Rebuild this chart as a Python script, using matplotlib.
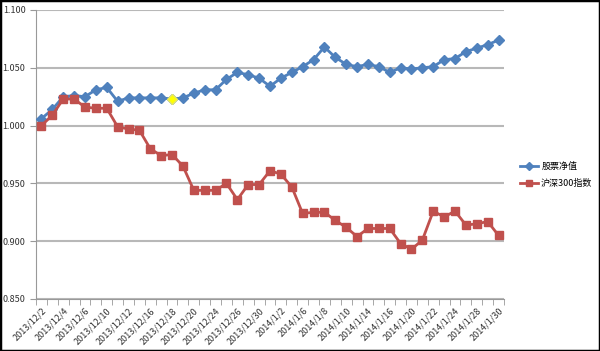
import numpy as np
import matplotlib
matplotlib.use('Agg')
import matplotlib.pyplot as plt
from matplotlib.patches import Rectangle

plt.rcParams['font.family'] = ['Noto Sans CJK SC', 'DejaVu Sans']

# 交易日
dates = ['2013/12/2', '2013/12/3', '2013/12/4', '2013/12/5', '2013/12/6',
         '2013/12/9', '2013/12/10', '2013/12/11', '2013/12/12', '2013/12/13',
         '2013/12/16', '2013/12/17', '2013/12/18', '2013/12/19', '2013/12/20',
         '2013/12/23', '2013/12/24', '2013/12/25', '2013/12/26', '2013/12/27',
         '2013/12/30', '2013/12/31', '2014/1/2', '2014/1/3', '2014/1/6',
         '2014/1/7', '2014/1/8', '2014/1/9', '2014/1/10', '2014/1/13',
         '2014/1/14', '2014/1/15', '2014/1/16', '2014/1/17', '2014/1/20',
         '2014/1/21', '2014/1/22', '2014/1/23', '2014/1/24', '2014/1/27',
         '2014/1/28', '2014/1/29', '2014/1/30']

stock_nav = [1.006, 1.014, 1.025, 1.026, 1.025, 1.031, 1.033, 1.021, 1.024, 1.024,
             1.024, 1.024, 1.023, 1.024, 1.028, 1.031, 1.031, 1.040, 1.046, 1.044,
             1.041, 1.034, 1.041, 1.046, 1.051, 1.057, 1.068, 1.059, 1.053, 1.051,
             1.053, 1.051, 1.046, 1.050, 1.049, 1.050, 1.051, 1.057, 1.058, 1.064,
             1.067, 1.070, 1.074]

hs300 = [1.000, 1.009, 1.023, 1.023, 1.016, 1.015, 1.015, 0.999, 0.997, 0.996,
         0.980, 0.974, 0.975, 0.965, 0.944, 0.944, 0.944, 0.950, 0.936, 0.949,
         0.949, 0.961, 0.958, 0.947, 0.924, 0.925, 0.925, 0.918, 0.912, 0.904,
         0.911, 0.911, 0.911, 0.898, 0.893, 0.901, 0.926, 0.921, 0.926, 0.914,
         0.915, 0.917, 0.905]

highlight = 12  # 黄色标记点

blue = '#4F81BD'
red = '#C0504D'

fig = plt.figure(figsize=(6, 3.51), dpi=100)
ax = fig.add_axes([36 / 600, 1 - 299 / 351, 468 / 600, 289 / 351])

x = np.arange(len(dates))
ax.plot(x, stock_nav, color=blue, lw=2, marker='D', ms=5.5,
        mfc=blue, mec=blue, label='股票净值', zorder=3)
ax.plot(x[highlight], stock_nav[highlight], marker='D', ms=5.5,
        mfc='#FFFF00', mec='#E8E860', ls='none', zorder=4)
ax.plot(x, hs300, color=red, lw=2, marker='s', ms=5.5,
        mfc=red, mec=red, label='沪深300指数', zorder=3)

ax.set_xlim(-0.5, len(dates) - 0.5)
ax.set_ylim(0.85, 1.10)
ax.set_yticks(np.arange(0.85, 1.101, 0.05))
ax.set_yticklabels(['%.3f' % v for v in np.arange(0.85, 1.101, 0.05)])
ax.yaxis.grid(True, color='#B8B8B8', lw=1.5)
ax.set_axisbelow(True)

ax.set_xticks(x[::2])
ax.set_xticklabels(dates[::2], rotation=45, ha='right', rotation_mode='anchor')
ax.set_xticks(np.arange(-0.5, len(dates), 1), minor=True)
ax.tick_params(axis='x', which='major', length=0, pad=5, labelsize=6.5, colors='#333333')
ax.tick_params(axis='x', which='minor', length=4, color='#999999')
ax.tick_params(axis='y', length=4, color='#999999', labelsize=6.5, labelcolor='#333333')

for s in ['top', 'right']:
    ax.spines[s].set_visible(False)
for s in ['left', 'bottom']:
    ax.spines[s].set_color('#999999')

leg = ax.legend(loc='center left', bbox_to_anchor=(1.035, 0.43), frameon=False,
                fontsize=6.5, handlelength=2.0, handletextpad=0.3,
                borderaxespad=0, borderpad=0, labelspacing=0.9, markerscale=0.7)

fig.patches.append(Rectangle((0, 0), 1, 1, transform=fig.transFigure,
                             fill=False, ec='black', lw=2.5))

fig.savefig('out.png', dpi=100)
